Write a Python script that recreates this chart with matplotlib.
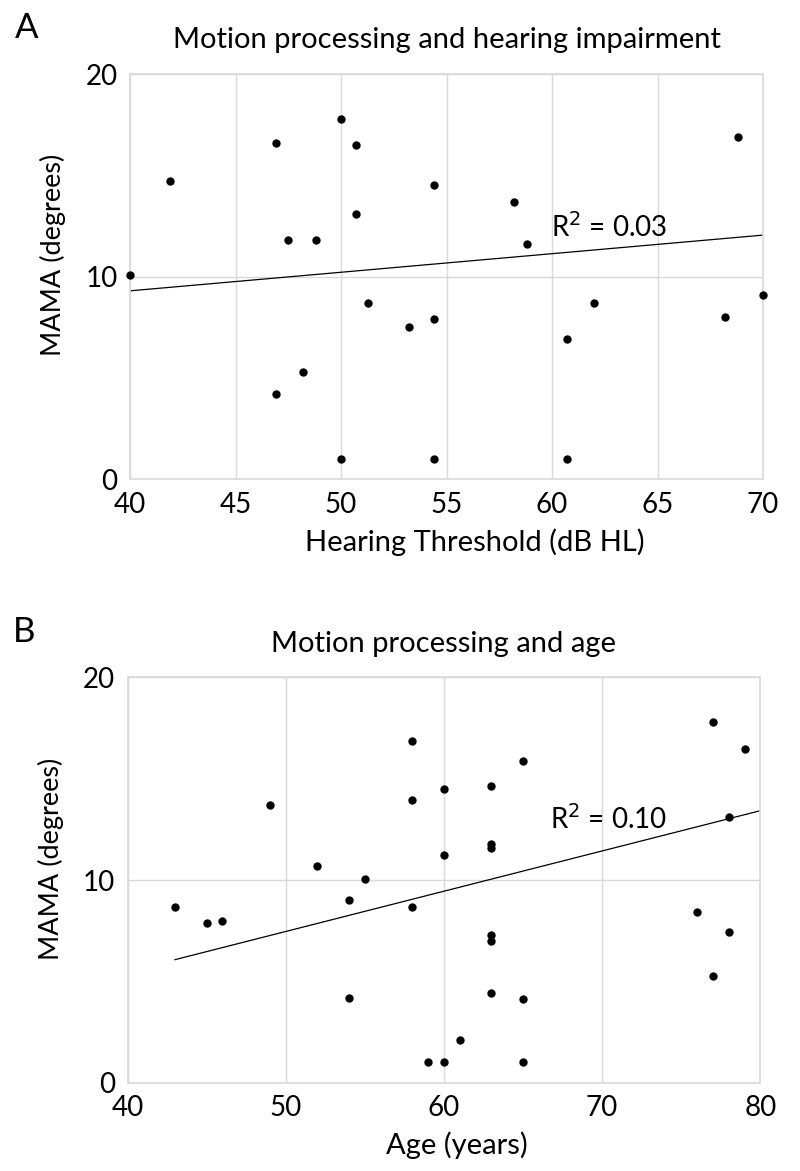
import numpy as np
import matplotlib
matplotlib.use('Agg')
import matplotlib.pyplot as plt

plt.rcParams['font.family'] = ['Lato', 'DejaVu Sans']

# Panel A: hearing threshold vs MAMA
hearing_db = [40.0, 41.9, 46.9, 50.0, 50.7, 54.4, 50.7, 47.5, 48.8, 51.3, 53.2, 54.4,
              48.2, 46.9, 50.0, 54.4, 58.2, 58.8, 68.8, 62.0, 60.7, 60.7, 68.2, 70.0]
mama_a = [10.1, 14.7, 16.6, 17.8, 16.5, 14.5, 13.1, 11.8, 11.8, 8.7, 7.5, 7.9,
          5.3, 4.2, 1.0, 1.0, 13.7, 11.6, 16.9, 8.7, 6.9, 1.0, 8.0, 9.1]
trend_a_x = [40, 70]
trend_a_y = [9.3, 12.05]

# Panel B: age vs MAMA
age = [43, 45, 46, 49, 52, 55, 54, 54, 58, 58, 58, 60, 60, 59, 60, 63, 63, 63,
       63, 63, 63, 65, 65, 65, 61, 77, 79, 78, 76, 78, 77]
mama_b = [8.65, 7.86, 8.0, 13.7, 10.7, 10.05, 9.03, 4.2, 16.85, 13.95, 8.65, 14.5,
          11.25, 1.0, 1.0, 14.65, 11.8, 11.6, 7.3, 7.0, 4.45, 15.85, 4.15, 1.0, 2.1,
          17.8, 16.45, 13.1, 8.4, 7.45, 5.25]
trend_b_x = [43, 80]
trend_b_y = [6.07, 13.42]

fig = plt.figure(figsize=(8, 11.71), dpi=100)
ax_a = fig.add_axes([0.1625, 0.5907, 0.7913, 0.3461])
ax_b = fig.add_axes([0.1594, 0.0754, 0.7910, 0.3462])

grey = '#d9d9d9'
fs_tick = 20
fs_lab = 21


def style(ax, xlim, xstep, title, xlabel, xlab_x, pad):
    ax.set_xlim(*xlim)
    ax.set_ylim(0, 20)
    ax.set_xticks(np.arange(xlim[0], xlim[1] + 1, xstep))
    ax.set_yticks([0, 10, 20])
    ax.grid(True, color=grey, lw=1.0)
    ax.set_axisbelow(True)
    for s in ax.spines.values():
        s.set_color(grey)
        s.set_linewidth(1.2)
    ax.tick_params(length=0, labelsize=fs_tick, pad=9)
    ax.set_title(title, fontsize=fs_lab, pad=pad)
    ax.set_xlabel(xlabel, fontsize=fs_lab)
    ax.xaxis.set_label_coords(xlab_x, -0.155)
    ax.xaxis.label.set_va('center')
    ax.text(-0.121, 0.553, 'MAMA (degrees)', transform=ax.transAxes, rotation=90,
            ha='center', va='center', fontsize=19.5)


style(ax_a, (40, 70), 5, 'Motion processing and hearing impairment',
      'Hearing Threshold (dB HL)', 0.545, 19)
ax_a.plot(trend_a_x, trend_a_y, color='black', lw=0.9)
ax_a.plot(hearing_db, mama_a, 'o', color='black', ms=5, clip_on=False, zorder=3)
ax_a.text(59.94, 11.96, 'R$^2$ = 0.03', fontsize=fs_tick, ha='left', va='baseline')

style(ax_b, (40, 80), 10, 'Motion processing and age', 'Age (years)', 0.52, 18)
ax_b.plot(trend_b_x, trend_b_y, color='black', lw=0.9)
ax_b.plot(age, mama_b, 'o', color='black', ms=5, clip_on=False, zorder=3)
ax_b.text(66.7, 12.52, 'R$^2$ = 0.10', fontsize=fs_tick, ha='left', va='baseline')

fig.text(27 / 800, 1 - 28 / 1171, 'A', fontsize=25, ha='center', va='center')
fig.text(24 / 800, 1 - 632 / 1171, 'B', fontsize=25, ha='center', va='center')

fig.savefig('out.png', dpi=100)
